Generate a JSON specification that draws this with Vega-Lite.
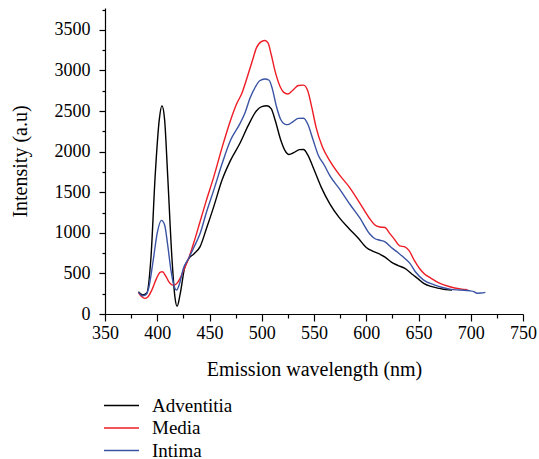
{
  "$schema": "https://vega.github.io/schema/vega-lite/v6.json",
  "autosize": {"type": "none"},
  "width": 418,
  "height": 306,
  "padding": {"left": 105, "top": 8, "right": 16, "bottom": 145},
  "background": "white",
  "config": {
    "view": {"stroke": null},
    "font": "Liberation Serif",
    "axis": {"domainColor": "black", "tickColor": "black", "labelColor": "black", "titleColor": "black", "grid": false, "labelFont": "Liberation Serif", "titleFont": "Liberation Serif", "titleFontWeight": "normal", "domainWidth": 1.2, "tickWidth": 1.2, "labelFlush": false, "labelOverlap": false}
  },
  "data": {"values": [
    {"s":"Adventitia","w":382,"v":274},{"s":"Adventitia","w":386,"v":235},{"s":"Adventitia","w":390,"v":260},{"s":"Adventitia","w":394,"v":700},{"s":"Adventitia","w":398,"v":1700},{"s":"Adventitia","w":402,"v":2400},{"s":"Adventitia","w":404.5,"v":2565},{"s":"Adventitia","w":407,"v":2400},{"s":"Adventitia","w":410,"v":1700},{"s":"Adventitia","w":414,"v":700},{"s":"Adventitia","w":417,"v":200},{"s":"Adventitia","w":419,"v":95},{"s":"Adventitia","w":422,"v":250},{"s":"Adventitia","w":426,"v":560},{"s":"Adventitia","w":430,"v":680},{"s":"Adventitia","w":435,"v":740},{"s":"Adventitia","w":441,"v":830},{"s":"Adventitia","w":447,"v":1050},{"s":"Adventitia","w":454,"v":1320},{"s":"Adventitia","w":462,"v":1650},{"s":"Adventitia","w":470,"v":1890},{"s":"Adventitia","w":479,"v":2100},{"s":"Adventitia","w":487,"v":2320},{"s":"Adventitia","w":495,"v":2505},{"s":"Adventitia","w":500,"v":2555},{"s":"Adventitia","w":505,"v":2565},{"s":"Adventitia","w":509,"v":2530},{"s":"Adventitia","w":513,"v":2380},{"s":"Adventitia","w":518,"v":2150},{"s":"Adventitia","w":522,"v":2020},{"s":"Adventitia","w":526,"v":1965},{"s":"Adventitia","w":531,"v":1990},{"s":"Adventitia","w":536,"v":2025},{"s":"Adventitia","w":540,"v":2026},{"s":"Adventitia","w":544,"v":1960},{"s":"Adventitia","w":550,"v":1780},{"s":"Adventitia","w":557,"v":1560},{"s":"Adventitia","w":565,"v":1360},{"s":"Adventitia","w":574,"v":1190},{"s":"Adventitia","w":583,"v":1060},{"s":"Adventitia","w":592,"v":940},{"s":"Adventitia","w":600,"v":820},{"s":"Adventitia","w":606,"v":775},{"s":"Adventitia","w":612,"v":745},{"s":"Adventitia","w":618,"v":700},{"s":"Adventitia","w":624,"v":640},{"s":"Adventitia","w":630,"v":600},{"s":"Adventitia","w":637,"v":561},{"s":"Adventitia","w":645,"v":480},{"s":"Adventitia","w":650,"v":430},{"s":"Adventitia","w":655,"v":378},{"s":"Adventitia","w":662,"v":340},{"s":"Adventitia","w":670,"v":315},{"s":"Adventitia","w":676,"v":300},{"s":"Adventitia","w":682,"v":295},
    {"s":"Media","w":382,"v":265},{"s":"Media","w":385,"v":215},{"s":"Media","w":388,"v":192},{"s":"Media","w":391,"v":210},{"s":"Media","w":395,"v":300},{"s":"Media","w":399,"v":430},{"s":"Media","w":403,"v":515},{"s":"Media","w":405,"v":520},{"s":"Media","w":408,"v":470},{"s":"Media","w":411,"v":400},{"s":"Media","w":414,"v":360},{"s":"Media","w":416,"v":355},{"s":"Media","w":419,"v":380},{"s":"Media","w":422,"v":442},{"s":"Media","w":426,"v":560},{"s":"Media","w":430,"v":684},{"s":"Media","w":435,"v":880},{"s":"Media","w":441,"v":1140},{"s":"Media","w":447,"v":1400},{"s":"Media","w":454,"v":1686},{"s":"Media","w":462,"v":2050},{"s":"Media","w":470,"v":2382},{"s":"Media","w":476,"v":2590},{"s":"Media","w":481,"v":2720},{"s":"Media","w":486,"v":2914},{"s":"Media","w":491,"v":3120},{"s":"Media","w":495,"v":3282},{"s":"Media","w":500,"v":3360},{"s":"Media","w":503,"v":3370},{"s":"Media","w":506,"v":3340},{"s":"Media","w":509,"v":3200},{"s":"Media","w":513,"v":2980},{"s":"Media","w":518,"v":2790},{"s":"Media","w":521,"v":2730},{"s":"Media","w":525,"v":2710},{"s":"Media","w":530,"v":2760},{"s":"Media","w":535,"v":2815},{"s":"Media","w":540,"v":2820},{"s":"Media","w":544,"v":2750},{"s":"Media","w":548,"v":2540},{"s":"Media","w":552,"v":2300},{"s":"Media","w":558,"v":2060},{"s":"Media","w":565,"v":1890},{"s":"Media","w":574,"v":1720},{"s":"Media","w":584,"v":1560},{"s":"Media","w":594,"v":1363},{"s":"Media","w":603,"v":1180},{"s":"Media","w":608,"v":1100},{"s":"Media","w":613,"v":1072},{"s":"Media","w":618,"v":1065},{"s":"Media","w":622,"v":1000},{"s":"Media","w":627,"v":920},{"s":"Media","w":632,"v":840},{"s":"Media","w":637,"v":827},{"s":"Media","w":641,"v":780},{"s":"Media","w":646,"v":660},{"s":"Media","w":651,"v":560},{"s":"Media","w":656,"v":490},{"s":"Media","w":662,"v":440},{"s":"Media","w":670,"v":380},{"s":"Media","w":680,"v":336},{"s":"Media","w":690,"v":310},{"s":"Media","w":697,"v":300},
    {"s":"Intima","w":382,"v":270},{"s":"Intima","w":386,"v":225},{"s":"Intima","w":389,"v":235},{"s":"Intima","w":392,"v":330},{"s":"Intima","w":396,"v":650},{"s":"Intima","w":400,"v":1000},{"s":"Intima","w":404,"v":1154},{"s":"Intima","w":407,"v":1100},{"s":"Intima","w":410,"v":850},{"s":"Intima","w":413,"v":550},{"s":"Intima","w":416,"v":350},{"s":"Intima","w":418.6,"v":295},{"s":"Intima","w":421,"v":360},{"s":"Intima","w":425,"v":560},{"s":"Intima","w":430,"v":684},{"s":"Intima","w":435,"v":820},{"s":"Intima","w":441,"v":991},{"s":"Intima","w":447,"v":1250},{"s":"Intima","w":454,"v":1523},{"s":"Intima","w":462,"v":1850},{"s":"Intima","w":470,"v":2137},{"s":"Intima","w":479,"v":2342},{"s":"Intima","w":484,"v":2480},{"s":"Intima","w":489,"v":2668},{"s":"Intima","w":494,"v":2800},{"s":"Intima","w":498,"v":2874},{"s":"Intima","w":503,"v":2895},{"s":"Intima","w":507,"v":2880},{"s":"Intima","w":510,"v":2780},{"s":"Intima","w":514,"v":2560},{"s":"Intima","w":518,"v":2400},{"s":"Intima","w":522,"v":2340},{"s":"Intima","w":525,"v":2333},{"s":"Intima","w":530,"v":2370},{"s":"Intima","w":535,"v":2410},{"s":"Intima","w":540,"v":2411},{"s":"Intima","w":544,"v":2340},{"s":"Intima","w":549,"v":2150},{"s":"Intima","w":554,"v":1960},{"s":"Intima","w":560,"v":1830},{"s":"Intima","w":565,"v":1707},{"s":"Intima","w":575,"v":1530},{"s":"Intima","w":585,"v":1340},{"s":"Intima","w":594,"v":1180},{"s":"Intima","w":603,"v":991},{"s":"Intima","w":608,"v":930},{"s":"Intima","w":613,"v":909},{"s":"Intima","w":618,"v":888},{"s":"Intima","w":624,"v":820},{"s":"Intima","w":630,"v":760},{"s":"Intima","w":637,"v":684},{"s":"Intima","w":642,"v":620},{"s":"Intima","w":647,"v":520},{"s":"Intima","w":655,"v":418},{"s":"Intima","w":665,"v":360},{"s":"Intima","w":672,"v":330},{"s":"Intima","w":680,"v":307},{"s":"Intima","w":690,"v":295},{"s":"Intima","w":699,"v":286},{"s":"Intima","w":703,"v":275},{"s":"Intima","w":706,"v":256},{"s":"Intima","w":710,"v":258},{"s":"Intima","w":714,"v":266}
  ]},
  "mark": {"type": "line", "interpolate": "monotone", "strokeWidth": 1.4},
  "encoding": {
    "x": {"field": "w", "type": "quantitative", "scale": {"domain": [350, 750], "nice": false, "zero": false},
      "axis": {"orient": "bottom", "values": [350,375,400,425,450,475,500,525,550,575,600,625,650,675,700,725,750], "format": "d",
        "labelExpr": "datum.value % 50 === 0 ? datum.label : ''",
        "tickSize": {"condition": {"test": "datum.value % 50 === 0", "value": 7}, "value": 4},
        "labelFontSize": 18, "labelPadding": 3, "title": "Emission wavelength (nm)", "titleFontSize": 20, "titlePadding": 17}},
    "y": {"field": "v", "type": "quantitative", "scale": {"domain": [0, 3770], "nice": false},
      "axis": {"orient": "left", "values": [0,250,500,750,1000,1250,1500,1750,2000,2250,2500,2750,3000,3250,3500,3750], "format": "d",
        "labelExpr": "datum.value % 500 === 0 ? datum.label : ''",
        "tickSize": {"condition": {"test": "datum.value % 500 === 0", "value": 6}, "value": 3},
        "labelFontSize": 18, "labelPadding": 9, "title": "Intensity (a.u)", "titleFontSize": 20, "titlePadding": 24}},
    "color": {"field": "s", "type": "nominal",
      "scale": {"domain": ["Adventitia", "Media", "Intima"], "range": ["#000000", "#ee1c25", "#3a53a4"]},
      "legend": {"title": null, "orient": "none", "legendX": 0, "legendY": 388, "symbolType": "M-1.4,0H3.267", "symbolSize": 225, "symbolStrokeWidth": 1.4, "symbolFillColor": "transparent", "labelFontSize": 19, "labelFont": "Liberation Serif", "labelColor": "black", "labelOffset": 28, "rowPadding": 2.5}}
  }
}
